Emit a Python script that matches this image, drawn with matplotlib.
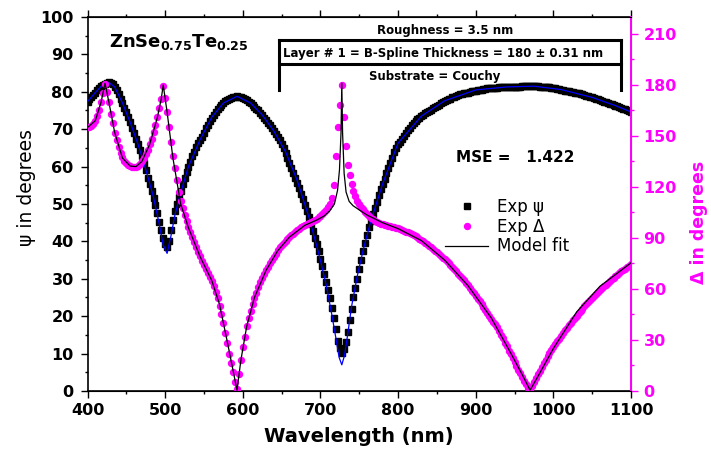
import numpy as np
import matplotlib
matplotlib.use('Agg')
import matplotlib.pyplot as plt
from matplotlib.lines import Line2D
from matplotlib.ticker import MultipleLocator

wavelength = np.linspace(400, 1100, 281)
psi_exp = [
    77.4, 78.0, 78.6, 79.2, 79.8, 80.4, 81.0, 81.5, 81.9, 82.2,
    82.4, 82.5, 82.4, 82.0, 81.4, 80.5, 79.3, 78.0, 77.0, 75.8,
    74.6, 73.3, 71.8, 70.3, 69.0, 67.5, 66.0, 64.5, 62.8, 61.0,
    59.0, 57.0, 55.3, 53.5, 51.7, 49.8, 47.6, 45.3, 43.0, 41.0,
    39.3, 38.6, 40.2, 43.0, 45.6, 48.0, 50.0, 51.8, 53.6, 55.3,
    57.0, 58.5, 60.0, 61.3, 62.7, 64.0, 65.2, 66.3, 67.2, 68.0,
    69.1, 70.2, 71.2, 72.1, 73.0, 73.8, 74.6, 75.3, 75.9, 76.5,
    77.0, 77.5, 77.9, 78.2, 78.4, 78.6, 78.7, 78.8, 78.7, 78.6,
    78.4, 78.1, 77.8, 77.4, 76.9, 76.4, 76.0, 75.5, 75.0, 74.4,
    73.8, 73.1, 72.4, 71.7, 71.0, 70.3, 69.5, 68.7, 67.9, 67.1,
    66.1, 65.0, 63.7, 62.3, 61.0, 59.7, 58.4, 57.0, 55.7, 54.3,
    52.8, 51.3, 49.7, 48.0, 46.4, 44.7, 42.9, 41.0, 39.2, 37.3,
    35.4, 33.4, 31.3, 29.2, 27.0, 24.8, 22.2, 19.5, 16.5, 13.5,
    11.5, 10.1, 11.3, 13.0, 15.8, 19.0, 22.0, 25.0, 27.6, 30.0,
    32.5, 35.0, 37.3, 39.5, 41.7, 43.8, 45.5, 47.2, 48.9, 50.5,
    52.3, 54.0, 55.4, 56.8, 58.2, 59.6, 61.0, 62.3, 63.8, 65.1,
    66.0, 66.7, 67.5, 68.2, 69.0, 69.7, 70.4, 71.0, 71.6, 72.1,
    72.6, 73.1, 73.5, 73.9, 74.3, 74.6, 74.9, 75.2, 75.6, 75.9,
    76.3, 76.6, 76.9, 77.2, 77.5, 77.7, 78.0, 78.2, 78.5, 78.7,
    78.9, 79.1, 79.3, 79.4, 79.6, 79.7, 79.8, 79.9, 80.1, 80.2,
    80.3, 80.4, 80.5, 80.6, 80.7, 80.8, 80.9, 80.9, 81.0, 81.0,
    81.1, 81.1, 81.2, 81.2, 81.2, 81.2, 81.3, 81.3, 81.3, 81.3,
    81.4, 81.4, 81.4, 81.4, 81.5, 81.5, 81.5, 81.5, 81.5, 81.5,
    81.5, 81.5, 81.5, 81.4, 81.4, 81.3, 81.3, 81.2, 81.2, 81.1,
    81.0, 80.9, 80.8, 80.7, 80.6, 80.4, 80.3, 80.2, 80.1, 80.0,
    79.9, 79.8, 79.7, 79.6, 79.5, 79.3, 79.1, 78.9, 78.8, 78.6,
    78.5, 78.3, 78.2, 78.0, 77.8, 77.6, 77.4, 77.2, 77.0, 76.8,
    76.7, 76.5, 76.3, 76.1, 75.9, 75.7, 75.5, 75.3, 75.1, 74.8,
    74.6,
]
delta_exp = [
    155.0, 155.5, 156.0, 157.0, 159.0, 161.5, 165.0, 170.0, 175.0, 180.5,
    176.0, 170.0, 163.0, 157.5, 152.0, 147.5, 143.5, 140.0, 137.5, 135.5,
    134.0, 133.0, 132.3, 132.0, 131.8, 132.0, 132.5, 133.5, 135.0, 137.0,
    139.3, 142.0, 145.0, 148.5, 152.3, 156.5, 161.0, 166.5, 172.0, 179.3,
    172.5, 164.0, 155.0, 146.5, 138.0, 131.0, 124.0, 117.0, 112.0, 107.5,
    103.5, 100.0, 96.5, 93.5, 90.5, 87.5, 84.7, 82.0, 79.2, 76.5,
    74.0, 71.5, 69.2, 67.0, 64.8, 62.0, 58.5, 54.5, 50.0, 45.0,
    40.0, 34.0, 28.0, 22.0, 16.5, 11.0, 5.5, 1.0, 10.0, 18.0,
    26.0, 32.0, 38.0, 43.0, 47.0, 51.0, 54.5, 57.5, 61.0, 64.0,
    66.5, 69.0, 71.2, 73.2, 75.2, 77.0, 79.0, 80.8, 82.8, 84.5,
    86.0, 87.3, 88.5, 89.5, 90.5, 91.5, 92.5, 93.5, 94.5, 95.5,
    96.3, 97.0, 97.6, 98.2, 98.8, 99.3, 99.9, 100.6, 101.4, 102.2,
    103.0, 104.0, 105.2, 106.5, 108.0, 110.0, 113.5, 121.0, 138.0, 155.0,
    168.0, 180.0, 161.0, 144.0, 133.0, 127.0, 121.5, 117.5, 114.5, 112.0,
    110.2, 108.5, 106.8, 105.5, 104.2, 103.0, 102.0, 101.0, 100.2, 99.5,
    99.0, 98.5, 98.2, 97.8, 97.5, 97.2, 96.9, 96.6, 96.3, 96.0,
    95.6, 95.2, 94.8, 94.3, 93.8, 93.3, 92.8, 92.2, 91.6, 91.0,
    90.3, 89.6, 88.8, 88.0, 87.2, 86.3, 85.4, 84.5, 83.5, 82.5,
    81.5, 80.5, 79.5, 78.5, 77.4, 76.3, 75.1, 73.9, 72.7, 71.5,
    70.3, 69.0, 67.7, 66.3, 65.0, 63.6, 62.1, 60.6, 59.1, 57.5,
    55.9, 54.3, 52.7, 51.0, 49.4, 47.8, 46.1, 44.3, 42.6, 40.8,
    39.4, 37.6, 35.5, 33.2, 30.9, 28.5, 26.2, 23.8, 21.6, 19.3,
    17.0, 14.8, 12.5, 10.3, 8.1, 6.0, 3.9, 2.0, 0.5, 2.8,
    5.2, 7.5, 9.8, 12.0, 14.2, 16.3, 18.3, 20.3, 22.2, 24.0,
    25.8, 27.5, 29.2, 30.8, 32.4, 34.0, 35.6, 37.2, 38.7, 40.2,
    41.6, 43.0, 44.4, 45.8, 47.2, 48.5, 49.8, 51.0, 52.3, 53.5,
    54.8, 56.0, 57.2, 58.3, 59.4, 60.5, 61.6, 62.6, 63.7, 64.7,
    65.7, 66.6, 67.6, 68.5, 69.4, 70.3, 71.2, 72.0, 72.9, 73.7,
    74.5,
]

# Model fit curves
fit_wl_psi = [400, 410, 420, 427.5, 435, 445, 455, 465, 475, 485, 492.5, 497.5,
              502.5, 507.5, 512.5, 520, 530, 545, 560, 575, 592.5, 610, 625,
              640, 655, 670, 685, 697.5, 707.5, 715, 720, 724, 727.5, 731, 735,
              740, 747.5, 755, 765, 780, 800, 830, 860, 900, 940, 975, 1010,
              1050, 1080, 1100]
psi_fit = [77.4, 79.8, 82.0, 82.5, 81.3, 77.0, 71.8, 66.0, 59.3, 51.8, 44.5, 39.0,
           36.8, 41.5, 47.0, 53.0, 60.0, 67.2, 73.2, 77.0, 78.8, 77.0, 73.8,
           69.5, 64.0, 56.3, 46.6, 37.0, 28.3, 20.0, 14.0, 9.0, 7.0, 9.5, 15.0,
           22.5, 30.8, 37.7, 45.5, 55.3, 66.3, 73.5, 77.6, 80.5, 81.3, 81.5, 80.6,
           78.5, 76.3, 74.6]
fit_wl_delta = [400, 410, 417.5, 422.5, 427.5, 435, 445, 455, 462.5, 470, 480, 490,
                495, 497.5, 502.5, 510, 520, 530, 545, 560, 570, 580, 587.5, 592.5,
                597.5, 605, 615, 630, 645, 660, 680, 695, 705, 712, 718, 722, 724.5,
                726.5, 727.5, 728.5, 730.5, 733, 737, 742, 750, 760, 780, 800, 830,
                860, 890, 920, 945, 960, 970, 980, 1000, 1030, 1060, 1100]
delta_fit = [155, 159, 170, 181, 170, 152, 137, 132.3, 132, 135, 145, 161,
             172, 180, 164, 137, 110, 96, 79, 65, 51, 29, 12, 0.5,
             18, 38, 55, 71, 82.5, 90.5, 97.5, 100.5, 103, 106, 110, 118, 130,
             152, 181, 152, 128, 117, 111.5, 109, 106.5, 103.5, 99, 95.5, 88.5,
             77, 62, 43, 22.4, 9.5, 0.5, 8.5, 25, 46.5, 61.6, 75.4]

MAGENTA = '#ff00ff'

fig = plt.figure(figsize=(7.11, 4.58), dpi=100)
ax = fig.add_axes([0.1231, 0.1463, 0.7644, 0.8166])
ax2 = ax.twinx()

ax.plot(wavelength, psi_exp, 's', color='black', markersize=4.4, zorder=2)
ax.plot(fit_wl_psi, psi_fit, '-', color='blue', linewidth=0.9, zorder=3)
ax2.plot(wavelength, delta_exp, 'o', color=MAGENTA, markersize=4.3, zorder=2)
ax2.plot(fit_wl_delta, delta_fit, '-', color='black', linewidth=0.9, zorder=3)

ax.set_xlim(400, 1100)
ax.set_ylim(0, 100)
ax2.set_ylim(0, 220)

ax.xaxis.set_major_locator(MultipleLocator(100))
ax.xaxis.set_minor_locator(MultipleLocator(50))
ax.yaxis.set_major_locator(MultipleLocator(10))
ax.yaxis.set_minor_locator(MultipleLocator(5))
ax2.yaxis.set_major_locator(MultipleLocator(30))
ax2.yaxis.set_minor_locator(MultipleLocator(15))

ax.tick_params(which='both', direction='out', width=1, top=True)
ax.tick_params(which='major', length=5, pad=4, labelsize=11.5)
ax.tick_params(which='minor', length=2.5)
ax.tick_params(axis='y', which='major', pad=5)
ax2.tick_params(which='both', direction='out', width=1, colors=MAGENTA)
ax2.tick_params(which='major', length=5, pad=4, labelsize=11.5)
ax2.tick_params(which='minor', length=2.5)
for lab in ax.get_xticklabels() + ax.get_yticklabels() + ax2.get_yticklabels():
    lab.set_fontweight('bold')

for s in ['left', 'bottom', 'top']:
    ax.spines[s].set_linewidth(1.2)
ax2.spines['right'].set_color(MAGENTA)
ax2.spines['right'].set_linewidth(1.4)
ax2.spines['left'].set_visible(False)

ax.set_xlabel('Wavelength (nm)', fontsize=14, fontweight='bold', labelpad=6)
fig.text(26 / 711, 1 - 187 / 458, 'ψ in degrees', rotation=90, fontsize=13.5,
         ha='center', va='center')
fig.text(699 / 711, 1 - 222 / 458, 'Δ in degrees', rotation=90, fontsize=12.5,
         fontweight='bold', color=MAGENTA, ha='center', va='center')

# Annotations
fig.text(109 / 711, 1 - 47 / 458, r'ZnSe$_{\mathbf{0.75}}$Te$_{\mathbf{0.25}}$',
         fontsize=13, fontweight='bold', ha='left', va='baseline')
fig.text(445 / 711, 1 - 34 / 458, 'Roughness = 3.5 nm', fontsize=8.5,
         fontweight='bold', ha='center', va='baseline')
fig.text(443 / 711, 1 - 57.5 / 458, 'Layer # 1 = B-Spline Thickness = 180 ± 0.31 nm',
         fontsize=8.5, fontweight='bold', ha='center', va='baseline')
fig.text(435 / 711, 1 - 80 / 458, 'Substrate = Couchy', fontsize=8.5,
         fontweight='bold', ha='center', va='baseline')
fig.text(456 / 711, 1 - 162 / 458, 'MSE =   1.422', fontsize=11,
         fontweight='bold', ha='left', va='baseline')

# bracket around the layer description
def fx(px):
    return px / 711

def fy(py):
    return 1 - py / 458

for xs, ys in [((278.5, 620.5), (39.5, 39.5)), ((278.5, 620.5), (63.5, 63.5)),
               ((278.5, 278.5), (39.5, 90)), ((620.5, 620.5), (39.5, 90))]:
    fig.add_artist(Line2D([fx(x) for x in xs], [fy(y) for y in ys],
                          color='black', linewidth=2.2, solid_capstyle='projecting'))

handles = [Line2D([], [], marker='s', linestyle='none', color='black', markersize=4),
           Line2D([], [], marker='o', linestyle='none', color=MAGENTA, markersize=4.3),
           Line2D([], [], color='black', linewidth=0.9)]
ax.legend(handles, ['Exp ψ', 'Exp Δ', 'Model fit'], loc='upper left',
          bbox_to_anchor=(445 / 711, 1 - 198 / 458), bbox_transform=fig.transFigure,
          frameon=False, fontsize=12, handlelength=2.6, handletextpad=0.5,
          labelspacing=0.1, borderpad=0, borderaxespad=0)

fig.savefig('out.png', dpi=100)
